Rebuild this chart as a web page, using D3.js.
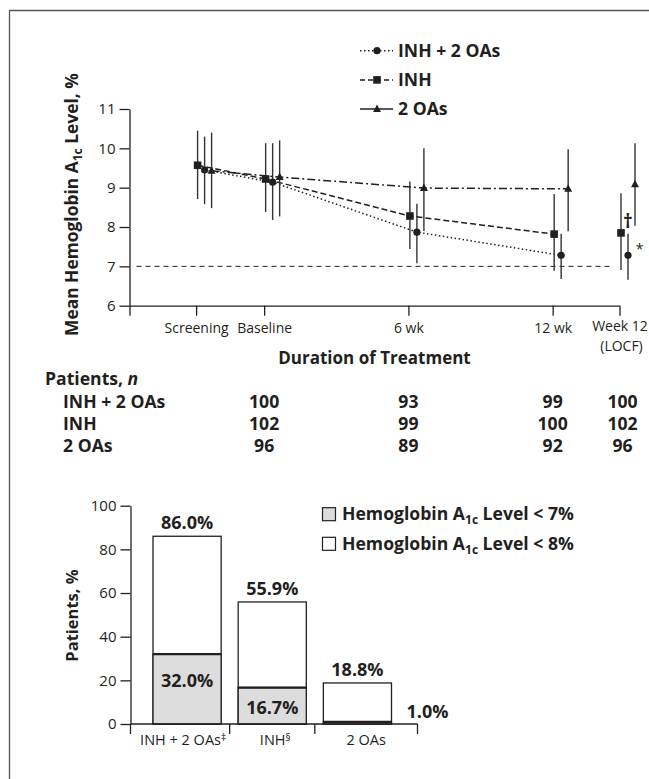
<!DOCTYPE html>
<head>
    <meta charset="utf-8">
    <script src="https://d3js.org/d3.v7.min.js"></script>
    <style>
      body { margin: 0; background: #fff; }
      text { font-family: "Open Sans", "DejaVu Sans", sans-serif; fill: #231f20; }
      .tick text { font-size: 15px; }
      .bold { font-weight: bold; }
    </style>
<body>
    <script>
        var svg_w = 649, svg_h = 779
        var ink = "#231f20"

        // time points of the line chart (weeks, screening and LOCF placed by eye)
        var timeLabels = ["Screening", "Baseline", "6 wk", "12 wk", "Week 12"]
        var timeWeeks = [-2.83, 0, 6, 12, 14.78]
        var axisStartWeek = -5.6

        // mean HbA1c and error bar ends
        var comboMean = [9.45, 9.14, 7.87, 7.28, 7.28]
        var comboLo   = [8.58, 8.18, 7.08, 6.68, 6.66]
        var comboHi   = [10.30, 10.13, 8.59, 7.83, 7.83]
        var inhMean = [9.57, 9.22, 8.28, 7.82, 7.85]
        var inhLo   = [8.71, 8.38, 7.44, 6.89, 6.91]
        var inhHi   = [10.45, 10.13, 9.16, 8.84, 8.86]
        var oaMean = [9.43, 9.27, 8.99, 8.97, 9.09]
        var oaLo   = [8.48, 8.27, 7.90, 7.89, 8.03]
        var oaHi   = [10.40, 10.20, 10.00, 9.98, 10.13]
        var targetLevel = 7
        var yTicksTop = [6, 7, 8, 9, 10, 11]

        // patients per group at baseline, 6 wk, 12 wk, week 12 LOCF
        var groupNames = ["INH + 2 OAs", "INH", "2 OAs"]
        var nWeeks = [0, 6, 12, 14.78]
        var nCombo = [100, 93, 99, 100]
        var nInh = [102, 99, 100, 102]
        var nOa = [96, 89, 92, 96]

        // bar chart
        var barGroups = ["INH + 2 OAs", "INH", "2 OAs"]
        var barMarks = ["‡", "§", ""]
        var below7 = [32.0, 16.7, 1.0]
        var below8 = [86.0, 55.9, 18.8]
        var yTicksBar = [0, 20, 40, 60, 80, 100]

        var boldSize = "17.6px"

        var svg = d3.select("body").append("svg")
          .attr("width", svg_w)
          .attr("height", svg_h)

        // frame
        svg.append("path")
          .attr("d", "M9.5," + svg_h + "V10.5H" + svg_w)
          .attr("fill", "none")
          .attr("stroke", "#555")
          .attr("stroke-width", 1.3)

        // ---------- LINE CHART ----------
        var x = d3.scaleLinear().domain([axisStartWeek, 14.78]).range([129.5, 619.5])
        var y = d3.scaleLinear().domain([6, 11]).range([305.7, 109])

        var yAxis = svg.append("g")
          .attr("transform", "translate(" + x(axisStartWeek) + ",0)")
          .call(d3.axisLeft(y).tickValues(yTicksTop).tickFormat(d3.format("d"))
            .tickSize(10).tickPadding(4).tickSizeOuter(0))
        var xAxis = svg.append("g")
          .attr("transform", "translate(0," + y(6) + ")")
          .call(d3.axisBottom(x).tickValues([axisStartWeek].concat(timeWeeks))
            .tickFormat(function(d) {
              var i = timeWeeks.indexOf(d)
              return i < 0 ? "" : timeLabels[i]
            })
            .tickSize(10).tickPadding(7).tickSizeOuter(0))
        xAxis.selectAll(".tick text").style("font-size", "14px")
        // "Week 12" sits a little higher so "(LOCF)" fits under it
        xAxis.selectAll(".tick text").filter(function(d) { return d == 14.78 })
          .attr("y", 15.5)
        xAxis.append("text")
          .attr("x", x(14.78) + 2)
          .attr("y", 45.5)
          .attr("text-anchor", "middle")
          .style("font-size", "14px")
          .attr("fill", ink)
          .text("(LOCF)")
        svg.selectAll(".domain, .tick line").attr("stroke", ink).attr("stroke-width", 1.3)
        svg.selectAll(".tick text").attr("fill", ink)

        svg.append("text")
          .attr("transform", "translate(78,336) rotate(-90)")
          .classed("bold", true)
          .style("font-size", "17.4px")
          .call(function(t) {
            t.append("tspan").text("Mean Hemoglobin A")
            t.append("tspan").text("1c").style("font-size", "12px").attr("dy", 4)
            t.append("tspan").text(" Level, %").attr("dy", -4)
          })

        svg.append("text")
          .attr("x", (x(axisStartWeek) + x(14.78)) / 2)
          .attr("y", 364)
          .attr("text-anchor", "middle")
          .classed("bold", true)
          .style("font-size", "17px")
          .text("Duration of Treatment")

        // target line at 7%
        svg.append("line")
          .attr("x1", x(axisStartWeek) + 7)
          .attr("x2", x(14.78) - 6)
          .attr("y1", y(targetLevel)).attr("y2", y(targetLevel))
          .attr("stroke", ink)
          .attr("stroke-width", 1)
          .attr("stroke-dasharray", "5,4")

        var series = [
          {name: "INH + 2 OAs", mean: comboMean, lo: comboLo, hi: comboHi, dx: 8.5, dash: "1.5,2.5", marker: "circle", legendDash: "1.5,2.5"},
          {name: "INH", mean: inhMean, lo: inhLo, hi: inhHi, dx: 1.5, dash: "6,3", marker: "square", legendDash: "5,3"},
          {name: "2 OAs", mean: oaMean, lo: oaLo, hi: oaHi, dx: 15.5, dash: "8,3,2,3", marker: "triangle", legendDash: null}
        ]

        function drawMarker(g, type, cx, cy) {
          if (type == "circle") {
            g.append("circle").attr("cx", cx).attr("cy", cy).attr("r", 3.6).attr("fill", ink)
          } else if (type == "square") {
            g.append("rect").attr("x", cx - 3.8).attr("y", cy - 3.8).attr("width", 7.6).attr("height", 7.6).attr("fill", ink)
          } else {
            g.append("path").attr("d", "M" + cx + "," + (cy - 4.5) + "l4,7.5h-8z").attr("fill", ink)
          }
        }

        var plot = svg.append("g")
        series.forEach(function(s) {
          var pts = timeWeeks.map(function(w, i) {
            return {x: x(w) + s.dx, m: y(s.mean[i]), lo: y(s.lo[i]), hi: y(s.hi[i])}
          })
          // connecting line (not to the LOCF point)
          plot.append("path")
            .attr("d", d3.line().x(function(p) { return p.x }).y(function(p) { return p.m })(pts.slice(0, 4)))
            .attr("fill", "none")
            .attr("stroke", ink)
            .attr("stroke-width", 1.5)
            .attr("stroke-dasharray", s.dash)
          pts.forEach(function(p) {
            plot.append("line")
              .attr("x1", p.x).attr("x2", p.x)
              .attr("y1", p.hi).attr("y2", p.lo)
              .attr("stroke", "#333")
              .attr("stroke-width", 1.4)
          })
          pts.forEach(function(p) { drawMarker(plot, s.marker, p.x, p.m) })
        })

        // significance marks at week 12 LOCF
        svg.append("text")
          .attr("x", x(14.78) + 8.5)
          .attr("y", y(comboHi[4]) - 6)
          .attr("text-anchor", "middle")
          .classed("bold", true)
          .style("font-size", "19px")
          .text("†")
        svg.append("text")
          .attr("x", x(14.78) + 20)
          .attr("y", y(comboMean[4]) - 1)
          .attr("text-anchor", "middle")
          .style("font-size", "14px")
          .text("*")

        // legend
        var legend = svg.append("g")
        series.forEach(function(s, i) {
          var ly = 50.7 + i * 29.2
          legend.append("line")
            .attr("x1", 360).attr("x2", 393)
            .attr("y1", ly).attr("y2", ly)
            .attr("stroke", ink)
            .attr("stroke-width", 1.5)
            .attr("stroke-dasharray", s.legendDash)
          drawMarker(legend, s.marker, 377, ly)
          legend.append("text")
            .attr("x", 398)
            .attr("y", ly + 6)
            .classed("bold", true)
            .style("font-size", boldSize)
            .text(s.name)
        })

        // ---------- PATIENT COUNTS ----------
        var tbl = svg.append("g")
        tbl.append("text")
          .attr("x", 45).attr("y", 385)
          .classed("bold", true)
          .style("font-size", boldSize)
          .call(function(t) {
            t.append("tspan").text("Patients, ")
            t.append("tspan").text("n").style("font-style", "italic")
          })
        var counts = [nCombo, nInh, nOa]
        groupNames.forEach(function(g, r) {
          var ry = 407.7 + r * 22
          tbl.append("text")
            .attr("x", 63).attr("y", ry)
            .classed("bold", true)
            .style("font-size", boldSize)
            .text(g)
          counts[r].forEach(function(v, c) {
            tbl.append("text")
              .attr("x", x(nWeeks[c]) + (c == 3 ? 3 : 0))
              .attr("y", ry)
              .attr("text-anchor", "middle")
              .classed("bold", true)
              .style("font-size", boldSize)
              .text(v)
          })
        })

        // ---------- BAR CHART ----------
        var yb = d3.scaleLinear().domain([0, 100]).range([724, 505.7])
        var xb = d3.scaleBand().domain(barGroups).range([144.5, 400]).paddingInner(0.2).paddingOuter(0.1)
        var axisLeftX = 130.5, axisRightX = 417.5

        var ybAxis = svg.append("g")
          .attr("transform", "translate(" + axisLeftX + ",0)")
          .call(d3.axisLeft(yb).tickValues(yTicksBar).tickSize(10).tickPadding(4).tickSizeOuter(0))
        ybAxis.selectAll(".domain, .tick line").attr("stroke", ink).attr("stroke-width", 1.3)
        ybAxis.selectAll(".tick text").attr("fill", ink)

        svg.append("text")
          .attr("transform", "translate(78,661.7) rotate(-90)")
          .classed("bold", true)
          .style("font-size", "16.5px")
          .text("Patients, %")

        var bars = svg.append("g")
        barGroups.forEach(function(g, i) {
          var bx = xb(g), bw = xb.bandwidth()
          bars.append("rect")
            .attr("x", bx).attr("y", yb(below8[i]))
            .attr("width", bw).attr("height", yb(0) - yb(below8[i]))
            .attr("fill", "#fff")
            .attr("stroke", ink).attr("stroke-width", 1.3)
          bars.append("rect")
            .attr("x", bx).attr("y", yb(below7[i]))
            .attr("width", bw).attr("height", yb(0) - yb(below7[i]))
            .attr("fill", "#dcdcdc")
            .attr("stroke", ink).attr("stroke-width", 1.3)
          bars.append("line")
            .attr("x1", bx).attr("x2", bx + bw)
            .attr("y1", yb(below7[i])).attr("y2", yb(below7[i]))
            .attr("stroke", ink).attr("stroke-width", 2.2)
          bars.append("text")
            .attr("x", bx + bw / 2)
            .attr("y", yb(below8[i]) - 7)
            .attr("text-anchor", "middle")
            .classed("bold", true)
            .style("font-size", "18px")
            .text(below8[i].toFixed(1) + "%")
          var inside = below7[i] > 5
          bars.append("text")
            .attr("x", inside ? bx + bw / 2 : bx + bw + 36)
            .attr("y", inside ? Math.min(yb(below7[i]) + 32.5, yb(0) - 10) : yb(0) - 6)
            .attr("text-anchor", "middle")
            .classed("bold", true)
            .style("font-size", "18px")
            .attr("fill", inside ? "#333" : ink)
            .text(below7[i].toFixed(1) + "%")
        })

        // category axis: ticks sit in the gaps between bars
        var step = xb.step(), gapHalf = (step - xb.bandwidth()) / 2
        var tickXs = [axisLeftX]
        barGroups.slice(1).forEach(function(g) { tickXs.push(xb(g) - gapHalf) })
        tickXs.push(axisRightX)
        var xbAxis = svg.append("g")
        xbAxis.append("line")
          .attr("x1", axisLeftX).attr("x2", axisRightX)
          .attr("y1", yb(0)).attr("y2", yb(0))
          .attr("stroke", ink).attr("stroke-width", 1.3)
        tickXs.forEach(function(tx) {
          xbAxis.append("line")
            .attr("x1", tx).attr("x2", tx)
            .attr("y1", yb(0)).attr("y2", yb(0) + 10)
            .attr("stroke", ink).attr("stroke-width", 1.3)
        })
        barGroups.forEach(function(g, i) {
          xbAxis.append("text")
            .attr("x", (tickXs[i] + tickXs[i + 1]) / 2 + (barMarks[i] ? 3 : 0))
            .attr("y", 745)
            .attr("text-anchor", "middle")
            .style("font-size", "14.5px")
            .call(function(t) {
              t.append("tspan").text(g)
              if (barMarks[i]) t.append("tspan").text(barMarks[i]).style("font-size", "10px").attr("dy", -4)
            })
        })

        // bar legend
        var barLegend = [["#dcdcdc", "7%"], ["#fff", "8%"]]
        barLegend.forEach(function(l, i) {
          var ly = 507.7 + i * 29.6
          svg.append("rect")
            .attr("x", 322.5).attr("y", ly)
            .attr("width", 13).attr("height", 13)
            .attr("fill", l[0])
            .attr("stroke", ink).attr("stroke-width", 1.2)
          svg.append("text")
            .attr("x", 342).attr("y", ly + 12.5)
            .classed("bold", true)
            .style("font-size", boldSize)
            .call(function(t) {
              t.append("tspan").text("Hemoglobin A")
              t.append("tspan").text("1c").style("font-size", "12px").attr("dy", 4)
              t.append("tspan").text(" Level < " + l[1]).attr("dy", -4)
            })
        })
    </script>
</body>
